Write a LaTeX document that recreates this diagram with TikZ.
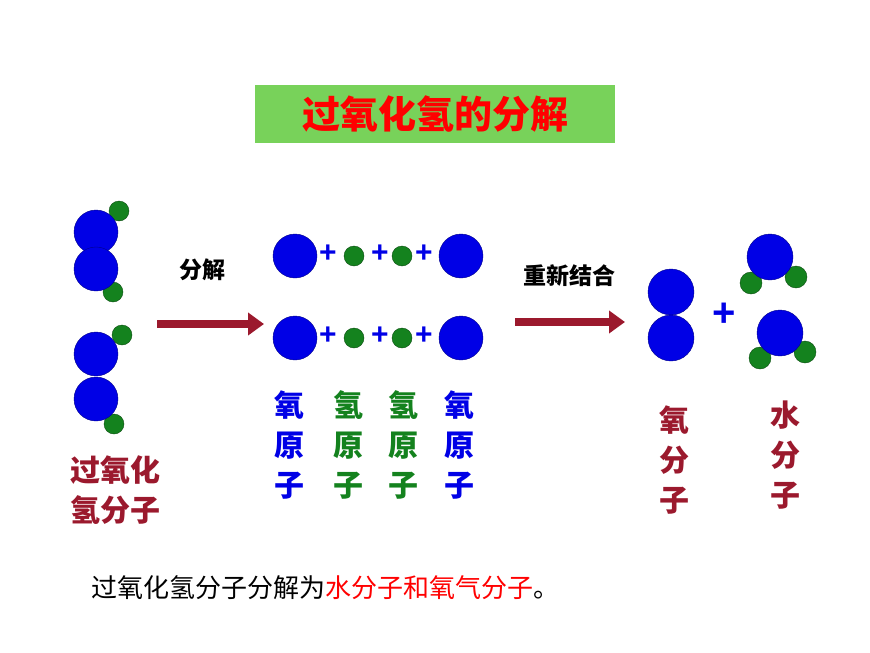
\documentclass[tikz,border=0pt]{standalone}
\usepackage{fontspec}
\newfontfamily\cjk{Noto Sans CJK SC}
\newfontfamily\plusfont{Liberation Sans}
\usetikzlibrary{arrows.meta}
\definecolor{oxy}{RGB}{0,0,230}
\definecolor{hyd}{RGB}{20,130,30}
\definecolor{arr}{RGB}{155,25,45}
\definecolor{titlebg}{RGB}{120,210,90}
\tikzset{
  O/.style={circle, fill=oxy, draw=oxy!60!black, minimum size=44pt, inner sep=0pt},
  H/.style={circle, fill=hyd, draw=hyd!60!black, minimum size=20pt, inner sep=0pt},
  plus/.style={text=oxy, font=\plusfont\bfseries\fontsize{30}{30}\selectfont, inner sep=0pt},
  bigarrow/.style={arr, line width=8pt, -{Triangle[length=16pt,width=22pt]}},
  lbl/.style={font=\cjk\bfseries\fontsize{30}{40}\selectfont, align=center}
}
\begin{document}
\begin{tikzpicture}[x=1pt,y=-1pt]
  \useasboundingbox (0,0) rectangle (870,653);
  % title
  \node[fill=titlebg, minimum width=360pt, minimum height=58pt, text=red,
        font=\cjk\bfseries\fontsize{38}{38}\selectfont] (title) at (435,114) {过氧化氢的分解};
  % hydrogen peroxide molecules
  \node[H] (h1) at (119,211) {};
  \node[H] (h2) at (113,292) {};
  \node[O] (o1) at (96,232) {};
  \node[O] (o2) at (96,269) {};
  \node[H] (h3) at (122,335) {};
  \node[H] (h4) at (114,424) {};
  \node[O] (o3) at (96,354) {};
  \node[O] (o4) at (96,399) {};
  \node[lbl, text=arr] (hpo) at (115,490) {过氧化\\氢分子};
  % decomposition arrow
  \coordinate (a1s) at (157,324);
  \coordinate (a1e) at (264,324);
  \draw[bigarrow] (a1s) -- (a1e);
  \node[font=\cjk\bfseries\fontsize{23}{23}\selectfont] (decomp) at (202,270) {分解};
  % separate atoms
  \foreach \y in {256,338} {
    \node[O] at (295,\y) {};
    \node[H] at (354,\y) {};
    \node[H] at (402,\y) {};
    \node[O] at (461,\y) {};
    \node[plus] at (328,\y-2) {+};
    \node[plus] at (380,\y-2) {+};
    \node[plus] at (424,\y-2) {+};
  }
  \node[lbl, text=oxy] (lo1) at (289,445) {氧\\原\\子};
  \node[lbl, text=hyd] (lh1) at (348,445) {氢\\原\\子};
  \node[lbl, text=hyd] (lh2) at (403,445) {氢\\原\\子};
  \node[lbl, text=oxy] (lo2) at (459,445) {氧\\原\\子};
  % recombination arrow
  \coordinate (a2s) at (515,322);
  \coordinate (a2e) at (625,322);
  \draw[bigarrow] (a2s) -- (a2e);
  \node[font=\cjk\bfseries\fontsize{23}{23}\selectfont] (recomb) at (569,276) {重新结合};
  % products
  \node[O, minimum size=46pt] (p1) at (671,292) {};
  \node[O, minimum size=46pt] (p2) at (671,338) {};
  \node[plus, font=\plusfont\bfseries\fontsize{40}{40}\selectfont] (pl) at (724,315) {+};
  \node[H, minimum size=22pt] (w1) at (751,283) {};
  \node[H, minimum size=22pt] (w2) at (796,277) {};
  \node[O, minimum size=46pt] (w3) at (770,257) {};
  \node[H, minimum size=22pt] (w4) at (760,358) {};
  \node[H, minimum size=22pt] (w5) at (805,352) {};
  \node[O, minimum size=46pt] (w6) at (780,333) {};
  \node[lbl, text=arr] (o2l) at (674,460) {氧\\分\\子};
  \node[lbl, text=arr] (h2ol) at (785,455) {水\\分\\子};
  % conclusion
  \node[font=\cjk\fontsize{26}{26}\selectfont, anchor=west] (concl) at (88,588)
    {过氧化氢分子分解为\textcolor{red}{水分子和氧气分子}。};
\end{tikzpicture}
\end{document}
